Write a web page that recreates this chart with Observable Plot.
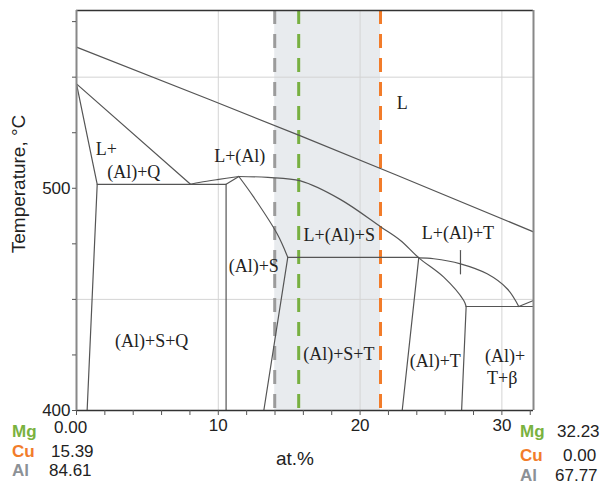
<!DOCTYPE html>
<html><head><meta charset="utf-8">
<script src="https://cdn.jsdelivr.net/npm/d3@7"></script>
<script src="https://cdn.jsdelivr.net/npm/@observablehq/plot@0.6"></script>
<style>body{margin:0;background:#fff} svg{display:block}</style>
</head><body><div id="chart"></div>
<script>
// ---- axes / ticks ----
const xDomain = [0, 32.23];
const yDomain = [400, 580];
const xTicks = [0,2,4,6,8,10,12,14,16,18,20,22,24,26,28,30,32];
const xTickLabels = [10, 20, 30];
const yTicks = [400,425,450,475,500,525,550,575];
const yTickLabels = [400, 500];
const xGrid = [10, 20, 30];
const yGrid = [450, 550];

// ---- composition section markers ----
const shadeBand = [{x1: 13.98, x2: 21.44}];
const sectionNames = ["gray", "Mg", "Cu"];
const sectionX = [13.98, 15.67, 21.44];
const sectionColors = ["#9b9b9b", "#78b041", "#f27c2a"];

// ---- phase boundaries (at.% , °C) ----
const liquidus   = [[0,563.5],[15.8,523.6],[32.23,480.4]];
const qLiquidus  = [[0,547],[8.04,501.8]];
const qSolidus   = [[0,547],[1.46,501.8],[0.75,400]];
const qEutectic  = [[1.46,501.8],[10.55,501.8],[10.55,400]];
const peakDiag   = [[10.55,501.8],[11.45,505.3]];
const peakLeft   = [[8.04,501.8],[8.74,502.7],[9.92,503.9],[11.45,505.3]];
const peakRight  = [[11.45,505.3],[13.5,504.9],[15.8,503.3],[18.6,495],[21.49,482.5],[22.85,476.5],[24.14,468.7],[25.9,460],[27.31,449.5],[27.48,446.8]];
const solvusS    = [[11.45,505.3],[12.5,496],[14.15,479.5],[14.9,468.9]];
const sBoundary  = [[14.9,468.9],[13.21,400]];
const tEutectic  = [[14.9,468.9],[24.14,468.9],[22.97,400]];
const tCurve     = [[24.14,468.7],[25.2,468.3],[27.08,466],[28.96,461.5],[30.37,454.8],[31.19,446.8]];
const betaLine   = [[27.48,446.8],[32.23,446.8]];
const betaLeft   = [[27.48,446.8],[27.16,400]];
const betaEdge   = [[31.19,446.8],[32.23,449.5]];
const tickMark   = [[27.08,472],[27.08,461.5]];

const straightLines = {qLiquidus, qSolidus, qEutectic, peakDiag, sBoundary, tEutectic, betaLine, betaLeft, betaEdge, tickMark};
const curvedLines = {liquidus, peakLeft, peakRight, solvusS, tCurve};

// ---- region labels ----
const regionLabels = ["L", "L+", "(Al)+Q", "L+(Al)", "L+(Al)+S", "L+(Al)+T", "(Al)+S", "(Al)+S+Q", "(Al)+S+T", "(Al)+T", "(Al)+", "T+β"];
const regionX = [22.97, 2.10, 4.04, 11.51, 18.53, 26.9, 12.5, 5.3, 18.5, 25.3, 30.22, 30.02];
const regionT = [538.2, 517.5, 507.1, 514.5, 478.8, 479.9, 465.0, 431.3, 425.1, 422.3, 424.4, 414.3];

// ---- end compositions ----
const elements = ["Mg", "Cu", "Al"];
const elementColors = ["#7ab23f", "#f27c2a", "#8c9196"];
const leftComp = ["0.00", "15.39", "84.61"];
const rightComp = ["32.23", "0.00", "67.77"];

function toRows(obj) {
  const rows = [];
  for (const [id, pts] of Object.entries(obj)) for (const [x, t] of pts) rows.push({id, x, t});
  return rows;
}
const straightRows = toRows(straightLines);
const curvedRows = toRows(curvedLines);
const sections = sectionX.map((x, i) => ({x, name: sectionNames[i], color: sectionColors[i]}));
const labels = regionLabels.map((label, i) => ({label, x: regionX[i], t: regionT[i]}));

const chart = Plot.plot({
  width: 602, height: 484,
  marginLeft: 76, marginRight: 69, marginTop: 10, marginBottom: 74,
  x: {domain: xDomain},
  y: {domain: yDomain},
  style: {fontFamily: "'Liberation Sans', Arial, sans-serif", fontSize: "17px", color: "#222", background: "#fff"},
  marks: [
    Plot.rect(shadeBand, {x1: "x1", x2: "x2", fill: "#e8ebee"}),
    Plot.gridX(xGrid, {stroke: "#d4d4d4", strokeOpacity: 1}),
    Plot.gridY(yGrid, {stroke: "#d4d4d4", strokeOpacity: 1}),
    Plot.ruleX(sections, {x: "x", stroke: "color", strokeWidth: 3, strokeDasharray: "14,10"}),
    Plot.line(straightRows, {x: "x", y: "t", z: "id", stroke: "#555", strokeWidth: 1.2}),
    Plot.line(curvedRows, {x: "x", y: "t", z: "id", stroke: "#555", strokeWidth: 1.2, curve: "catmull-rom"}),
    Plot.ruleY(yDomain, {stroke: "#333", strokeWidth: 1.5}),
    Plot.ruleX(xDomain, {stroke: "#888", strokeWidth: 2}),
    Plot.axisX(xTicks, {tickSize: 5, tickPadding: 3, stroke: "#555", tickFormat: d => xTickLabels.includes(d) ? String(d) : "", label: null, fontSize: 17}),
    Plot.axisY(yTicks, {tickSize: 4, tickPadding: 2, stroke: "#555", tickFormat: d => yTickLabels.includes(d) ? String(d) : "", label: null, fontSize: 17}),
    Plot.text(labels, {x: "x", y: "t", text: "label", fontFamily: "'Liberation Serif', 'Times New Roman', serif", fontSize: 18, fill: "#222", textAnchor: "middle", lineAnchor: "middle"})
  ]
});

const svg = d3.select(chart);
svg.append("text")
  .attr("transform", "translate(25,184) rotate(-90)")
  .attr("text-anchor", "middle")
  .style("font-family", "'Liberation Sans', Arial, sans-serif")
  .style("font-size", "19px").attr("fill", "#222")
  .text("Temperature, °C");
svg.append("text")
  .attr("x", 295).attr("y", 465)
  .attr("text-anchor", "middle")
  .style("font-family", "'Liberation Sans', Arial, sans-serif")
  .style("font-size", "19px").attr("fill", "#222")
  .text("at.%");

const leftBase = [437, 457, 476];
const leftValX = [54, 51, 49];
const rightBase = [437, 461, 481];
const rightValX = [557, 563, 555];
const addText = (x, y, txt, color, bold) => svg.append("text")
  .attr("x", x).attr("y", y).attr("text-anchor", "start")
  .style("font-family", "'Liberation Sans', Arial, sans-serif").style("font-size", "17px")
  .style("font-weight", bold ? "bold" : "normal")
  .attr("fill", color).text(txt);
elements.forEach((el, i) => {
  addText(12, leftBase[i], el, elementColors[i], true);
  addText(leftValX[i], leftBase[i] - (i === 0 ? 4 : 0), leftComp[i], "#222", false);
  addText(520, rightBase[i], el, elementColors[i], true);
  addText(rightValX[i], rightBase[i], rightComp[i], "#222", false);
});

document.getElementById("chart").appendChild(chart);
</script></body></html>
